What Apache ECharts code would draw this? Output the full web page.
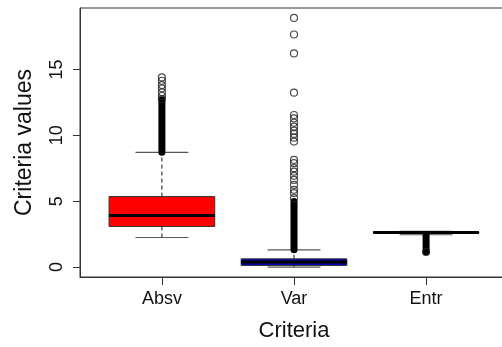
<!DOCTYPE html>
<html><head><meta charset="utf-8">
<script src="https://cdn.jsdelivr.net/npm/echarts@6/dist/echarts.min.js"></script>
<style>html,body{margin:0;padding:0;background:#fff;overflow:hidden;width:502px;height:347px}#c{position:absolute;left:0;top:0;width:600px;height:347px}</style>
</head><body><div id="c"></div>
<script>
const categories = ['Absv', 'Var', 'Entr'];
const positions = [1, 2, 3];
// [low whisker, q1, median, q3, high whisker]
const boxStats = [
  [2.24, 3.08, 3.91, 5.35, 8.71],
  [0.00, 0.12, 0.38, 0.62, 1.31],
  [2.45, 2.60, 2.63, 2.66, 2.70]
];
const boxColors = ['#ff0000', '#0000b4', '#000000'];
// ranges where outliers are so dense they form a solid column [lo, hi]
const denseOutliers = [
  [8.71, 12.70],
  [1.31, 4.97],
  [1.14, 2.45]
];
const absvOutliers = [12.75, 12.98, 13.26, 13.56, 13.81, 14.14, 14.39];
const varOutliers = [5.23, 5.61, 5.86, 6.23, 6.61, 6.92, 7.24, 7.50, 7.88, 8.13,
  9.52, 9.82, 10.10, 10.35, 10.65, 10.95, 11.29, 11.54, 13.23, 16.21, 17.65, 18.91];
const entrOutliers = [1.14];
const yTicks = [0, 5, 10, 15];

const FONT = '"Liberation Sans", Arial, sans-serif';
const boxData = boxStats.map((s, i) => [positions[i]].concat(s));
const denseData = denseOutliers.map((r, i) => [positions[i], r[0], r[1]]);
const outlierData = []
  .concat(absvOutliers.map(v => [positions[0], v]))
  .concat(varOutliers.map(v => [positions[1], v]))
  .concat(entrOutliers.map(v => [positions[2], v]));

function renderBox(params, api) {
  const x = api.value(0);
  const low = api.value(1), q1 = api.value(2), med = api.value(3), q3 = api.value(4), high = api.value(5);
  const hb = 0.4, hc = 0.2;
  const c = (a, b) => api.coord([a, b]);
  const tl = c(x - hb, q3), br = c(x + hb, q1);
  const xc = c(x, 0)[0];
  const dash = { stroke: '#111', lineWidth: 1, lineDash: [4, 3] };
  const cap = { stroke: '#555', lineWidth: 1.2 };
  return {
    type: 'group',
    children: [
      { type: 'line', shape: { x1: xc, y1: c(x, q3)[1], x2: xc, y2: c(x, high)[1] }, style: dash },
      { type: 'line', shape: { x1: xc, y1: c(x, q1)[1], x2: xc, y2: c(x, low)[1] }, style: dash },
      { type: 'line', shape: { x1: c(x - hc, high)[0], y1: c(x, high)[1], x2: c(x + hc, high)[0], y2: c(x, high)[1] }, style: cap },
      { type: 'line', shape: { x1: c(x - hc, low)[0], y1: c(x, low)[1], x2: c(x + hc, low)[0], y2: c(x, low)[1] }, style: cap },
      { type: 'rect', shape: { x: tl[0], y: tl[1], width: br[0] - tl[0], height: br[1] - tl[1] },
        style: { fill: boxColors[params.dataIndex], stroke: '#333', lineWidth: 1 } },
      { type: 'line', shape: { x1: tl[0], y1: c(x, med)[1], x2: br[0], y2: c(x, med)[1] },
        style: { stroke: '#000', lineWidth: 3 } }
    ]
  };
}

function renderDense(params, api) {
  const x = api.value(0);
  const top = api.coord([x, api.value(2)]);
  const bot = api.coord([x, api.value(1)]);
  return {
    type: 'line',
    shape: { x1: top[0], y1: top[1], x2: bot[0], y2: bot[1] },
    style: { stroke: '#000', lineWidth: 7, lineCap: 'round' }
  };
}

const chart = echarts.init(document.getElementById('c'), null, { renderer: 'canvas', width: 600, height: 347 });
chart.setOption({
  animation: false,
  backgroundColor: '#fff',
  grid: { left: 80, top: 8, width: 428, height: 269, outerBoundsMode: 'none', containLabel: false,
    show: true, borderColor: '#333', borderWidth: 1, backgroundColor: 'transparent' },
  xAxis: {
    type: 'value', min: 0.38, max: 3.62, position: 'bottom',
    name: 'Criteria', nameLocation: 'middle', nameGap: 43,
    nameTextStyle: { fontFamily: FONT, fontSize: 22, color: '#111' },
    axisLine: { show: true, onZero: false, lineStyle: { color: '#333' } },
    axisTick: { show: true, length: 8, customValues: positions, lineStyle: { color: '#333' } },
    axisLabel: { customValues: positions, formatter: v => categories[Math.round(v) - 1] || '',
      fontFamily: FONT, fontSize: 18, color: '#111', margin: 13 },
    splitLine: { show: false }
  },
  yAxis: {
    type: 'value', min: -0.756, max: 19.66,
    name: 'Criteria values', nameLocation: 'middle', nameGap: 44, nameRotate: 90,
    nameTextStyle: { fontFamily: FONT, fontSize: 23, color: '#111' },
    axisLine: { show: true, onZero: false, lineStyle: { color: '#333' } },
    axisTick: { show: true, length: 7, customValues: yTicks, lineStyle: { color: '#333' } },
    axisLabel: { customValues: yTicks, rotate: 90, fontFamily: FONT, fontSize: 18, color: '#111', margin: 14 },
    splitLine: { show: false }
  },
  series: [
    { type: 'custom', data: denseData, renderItem: renderDense, encode: { x: 0, y: [1, 2] }, z: 3 },
    { type: 'custom', data: boxData, renderItem: renderBox, encode: { x: 0, y: [1, 2, 3, 4, 5] }, z: 2 },
    { type: 'scatter', data: outlierData, symbol: 'circle', symbolSize: 7, z: 4,
      itemStyle: { color: 'rgba(0,0,0,0)', borderColor: '#222', borderWidth: 1.2 } }
  ]
});
</script></body></html>
